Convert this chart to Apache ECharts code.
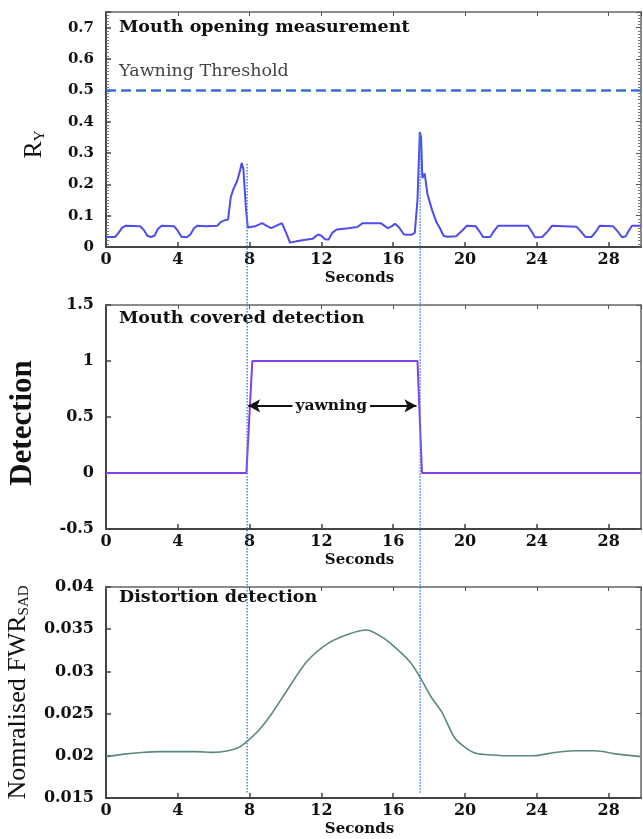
<!DOCTYPE html>
<html><head><meta charset="utf-8">
<script src="https://cdn.jsdelivr.net/npm/echarts@6/dist/echarts.min.js"></script>
<style>html,body{margin:0;padding:0;background:#fff}#c{width:643px;height:839px}</style>
</head><body><div id="c"></div>
<script>
// ---- data ----
const secondsMax = 29.8;
const secondsInterval = 4;

const topT = [0,0.5,0.7,0.9,1.1,1.9,2.1,2.3,2.5,2.7,2.9,3.1,3.8,4.0,4.2,4.5,4.7,4.9,5.1,5.6,6.2,6.4,6.6,6.8,6.95,7.1,7.3,7.45,7.56,7.65,7.8,7.9,8.3,8.7,9.0,9.2,9.5,9.8,10.0,10.25,10.6,11.2,11.5,11.8,12.0,12.2,12.4,12.6,12.85,13.5,14.0,14.3,15.3,15.5,15.7,15.9,16.1,16.3,16.6,17.0,17.2,17.35,17.48,17.55,17.62,17.75,17.9,18.15,18.4,18.6,18.8,19.0,19.5,19.8,20.1,20.6,20.8,21.0,21.4,21.6,21.85,23.5,23.7,23.9,24.3,24.6,24.85,26.2,26.45,26.7,27.05,27.3,27.5,28.25,28.5,28.75,28.95,29.15,29.3,29.8];
const topY = [0.032,0.032,0.045,0.062,0.068,0.066,0.055,0.036,0.032,0.036,0.058,0.068,0.066,0.052,0.033,0.031,0.04,0.06,0.068,0.066,0.068,0.08,0.085,0.088,0.16,0.185,0.21,0.24,0.268,0.25,0.12,0.062,0.066,0.076,0.066,0.06,0.068,0.076,0.05,0.014,0.018,0.024,0.026,0.04,0.036,0.025,0.024,0.045,0.056,0.06,0.064,0.076,0.076,0.068,0.06,0.066,0.074,0.064,0.04,0.039,0.045,0.15,0.367,0.35,0.22,0.235,0.17,0.12,0.08,0.06,0.036,0.033,0.034,0.05,0.068,0.066,0.05,0.032,0.032,0.05,0.068,0.068,0.05,0.031,0.032,0.05,0.068,0.065,0.05,0.032,0.032,0.05,0.068,0.066,0.05,0.031,0.034,0.055,0.068,0.068];
const threshold = 0.5;

const detT = [0,7.82,8.15,17.35,17.6,29.8];
const detY = [0,0,1,1,0,0];

const fwrT = [0,1,2,3,4,5,6,6.8,7.4,7.9,8.5,9.2,10.1,11.2,12.35,13.5,14.5,15.2,15.8,16.9,17.5,18.1,18.7,19.4,20.0,20.6,21.5,22.5,23.8,25,26.1,27.2,28.5,29.8];
const fwrY = [0.0199,0.0202,0.0204,0.0205,0.0205,0.0205,0.0204,0.0206,0.021,0.0218,0.023,0.0249,0.0278,0.0312,0.0333,0.0344,0.0349,0.0343,0.0334,0.0312,0.0293,0.027,0.0252,0.0222,0.021,0.0203,0.0201,0.02,0.02,0.0204,0.0206,0.0206,0.0202,0.0199];

const yawnStart = 7.92, yawnEnd = 17.29, yawnLevel = 0.6, yawnLabelT = 12.55;
const markerTimes = [7.86, 17.5];
const markerTopValues = [0.265, 0.36];
const markerBottomValue = 0.0156;

// ---- chart ----
const SERIF = 'DejaVu Serif';
const TIMES = 'Liberation Serif';
const chart = echarts.init(document.getElementById('c'), null, {renderer: 'canvas'});
const grids = [
  {left: 106, top: 12, width: 535, height: 235, outerBoundsMode: 'none', containLabel: false},
  {left: 106, top: 305, width: 535, height: 224, outerBoundsMode: 'none', containLabel: false},
  {left: 106, top: 587, width: 535, height: 211, outerBoundsMode: 'none', containLabel: false}
];
function zip(a, b){ return a.map((v,i)=>[v,b[i]]); }

function bottomX(g){
  return {type:'value', gridIndex:g, min:0, max:secondsMax, interval:secondsInterval,
    axisLine:{show:true, onZero:false, lineStyle:{color:'#444', width:2}},
    axisTick:{show:true, inside:true, length:5, lineStyle:{color:'#444', width:1.5}},
    axisLabel:{show:true, showMaxLabel:false, margin:5, fontFamily:SERIF, fontWeight:'bold', fontSize:16, color:'#111'},
    splitLine:{show:false},
    name:'Seconds', nameLocation:'middle', nameGap:24,
    nameTextStyle:{fontFamily:SERIF, fontWeight:'bold', fontSize:15, color:'#111', padding:[0,28,0,0]}};
}
function topX(g){
  return {type:'value', gridIndex:g, position:'top', min:0, max:secondsMax, interval:secondsInterval,
    axisLine:{show:true, onZero:false, lineStyle:{color:'#666', width:1.5}},
    axisTick:{show:true, inside:true, length:4, lineStyle:{color:'#555'}},
    axisLabel:{show:false}, splitLine:{show:false}};
}
function leftY(g, min, max, interval, extra){
  return Object.assign({type:'value', gridIndex:g, min, max, interval,
    axisLine:{show:true, onZero:false, lineStyle:{color:'#444', width:2}},
    axisTick:{show:true, inside:true, length:5, lineStyle:{color:'#444', width:1.5}},
    axisLabel:{show:true, showMaxLabel:true, margin:12, fontFamily:SERIF, fontWeight:'bold', fontSize:16, color:'#111'},
    splitLine:{show:false}}, extra||{});
}
function rightY(g, min, max, interval, minor){
  return {type:'value', gridIndex:g, position:'right', min, max, interval,
    axisLine:{show:true, onZero:false, lineStyle:{color:'#666', width:1.5}},
    axisTick:{show:true, inside:true, length:5, lineStyle:{color:'#555'}},
    minorTick: minor ? {show:true, splitNumber:10, length:3, lineStyle:{color:'#777'}} : {show:false},
    axisLabel:{show:false}, splitLine:{show:false}};
}

const option = {
  animation:false,
  backgroundColor:'#fff',
  grid: grids,
  title: [
    {text:'Mouth opening measurement', left:119, top:18, padding:0, textStyle:{fontFamily:SERIF, fontWeight:'bold', fontSize:17.5, color:'#111'}},
    {text:'Yawning Threshold', left:119, top:62, padding:0, textStyle:{fontFamily:SERIF, fontWeight:'normal', fontSize:17.5, color:'#444'}},
    {text:'Mouth covered detection', left:119, top:309, padding:0, textStyle:{fontFamily:SERIF, fontWeight:'bold', fontSize:17.5, color:'#111'}},
    {text:'Distortion detection', left:119, top:588, padding:0, textStyle:{fontFamily:SERIF, fontWeight:'bold', fontSize:17.5, color:'#111'}}
  ],
  xAxis: [bottomX(0), bottomX(1), bottomX(2), topX(0), topX(1), topX(2)],
  yAxis: [
    leftY(0, 0, 0.75, 0.1, {
      axisLabel:{show:true, showMaxLabel:false, margin:12, fontFamily:SERIF, fontWeight:'bold', fontSize:15, color:'#111'},
      minorTick:{show:true, splitNumber:10, length:3, lineStyle:{color:'#777'}},
      name:'{a|R}{b|Y}', nameLocation:'middle', nameRotate:90, nameGap:58,
      nameTextStyle:{padding:[0,0,0,-30], rich:{a:{fontFamily:TIMES, fontSize:26, color:'#111'}, b:{fontFamily:TIMES, fontSize:15, color:'#111', padding:[12,0,0,0]}}}
    }),
    leftY(1, -0.5, 1.5, 0.5, {
      name:'Detection', nameLocation:'middle', nameRotate:90, nameGap:68,
      nameTextStyle:{fontFamily:TIMES, fontWeight:'bold', fontSize:31, color:'#111', padding:[0,0,0,-12]}
    }),
    leftY(2, 0.015, 0.04, 0.005, {
      name:'{a|Nomralised FWR}{b|SAD}', nameLocation:'middle', nameRotate:90, nameGap:74,
      nameTextStyle:{rich:{a:{fontFamily:TIMES, fontSize:26, color:'#111'}, b:{fontFamily:TIMES, fontSize:15, color:'#111', padding:[12,0,0,0]}}}
    }),
    rightY(0, 0, 0.75, 0.1, true),
    rightY(1, -0.5, 1.5, 0.5, false),
    rightY(2, 0.015, 0.04, 0.005, false)
  ],
  series: [
    {type:'line', xAxisIndex:0, yAxisIndex:0, data:zip(topT, topY), showSymbol:false, symbol:'none',
     lineStyle:{color:'#4d4ded', width:2}, z:3,
     markLine:{silent:true, symbol:'none', label:{show:false},
       lineStyle:{color:'#3a6fd6', width:2.5, type:[10,5]}, data:[{yAxis:threshold}]}},
    {type:'line', xAxisIndex:1, yAxisIndex:1, data:zip(detT, detY), showSymbol:false, symbol:'none',
     lineStyle:{color:'#8040ea', width:2}, z:3,
     markLine:{silent:true, symbol:['arrow','arrow'], symbolSize:[10,12], label:{show:false},
       lineStyle:{color:'#111', width:2, type:'solid'},
       data:[[{coord:[yawnStart, yawnLevel]},{coord:[yawnEnd, yawnLevel]}]]},
     markPoint:{silent:true, symbol:'rect', symbolSize:0,
       label:{show:true, position:'inside', formatter:'yawning', fontFamily:SERIF, fontWeight:'bold', fontSize:15.5, color:'#111', backgroundColor:'#fff', padding:[0,3,0,3]},
       data:[{coord:[yawnLabelT, yawnLevel]}]}},
    {type:'line', xAxisIndex:2, yAxisIndex:2, data:zip(fwrT, fwrY), showSymbol:false, symbol:'none', smooth:0.3,
     lineStyle:{color:'#5a8a7a', width:1.6}, z:3}
  ]
};
chart.setOption(option);

// vertical dotted marker lines spanning the three panels
const graphics = markerTimes.map((t, i) => {
  const p1 = chart.convertToPixel({seriesIndex:0}, [t, markerTopValues[i]]);
  const p2 = chart.convertToPixel({seriesIndex:2}, [t, markerBottomValue]);
  return {type:'line', silent:true, z:10,
    shape:{x1:p1[0], y1:p1[1], x2:p2[0], y2:p2[1]},
    style:{stroke:'#4a84de', lineWidth:1.5, lineDash:[1.5,1.5]}};
});
chart.setOption({graphic: graphics});
</script>
</body></html>
